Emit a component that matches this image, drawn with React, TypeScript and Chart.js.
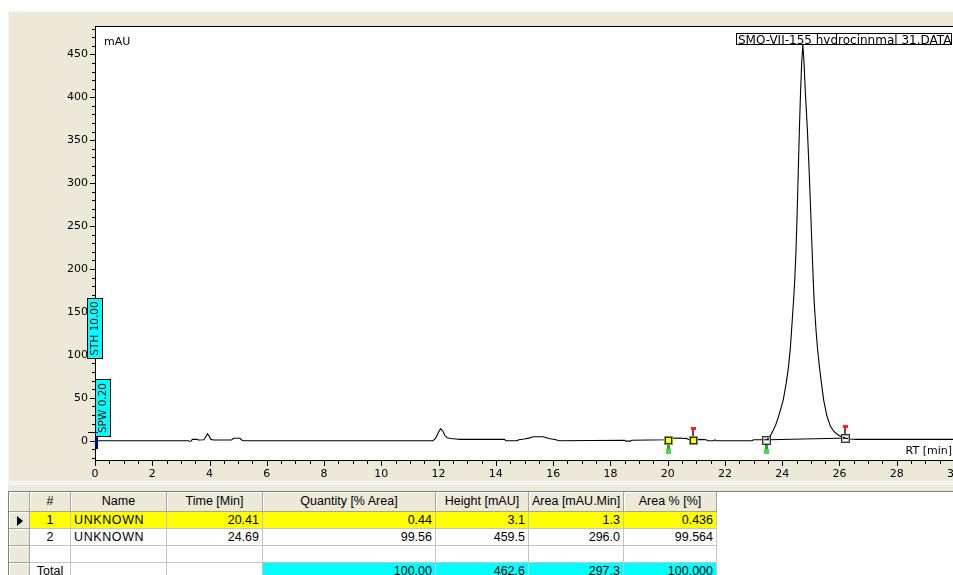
import React, { useEffect, useRef } from "react";
import { Chart, registerables } from "chart.js";

Chart.register(...registerables);

// ---------- chromatogram data ----------
const rtMinutes = [
  0, 3.25, 3.3, 3.36, 3.4, 3.55, 3.62, 3.8, 3.87, 3.93, 3.99, 4.05, 4.15, 4.77, 4.84, 5.06, 5.12, 5.2,
  11.8, 11.9, 12.0, 12.07, 12.15, 12.22, 12.3, 12.42, 12.6, 12.75, 14.3, 14.35, 14.75, 14.8, 15.0, 15.15,
  15.3, 15.65, 15.85, 16.1, 16.2, 18.5, 18.55, 18.7, 18.75, 20.0, 20.1, 20.15, 20.45, 20.55, 20.65, 20.72,
  20.9, 21.1, 21.35, 21.4, 21.6, 21.65, 21.7, 22.94, 23.0, 23.44, 23.52, 23.6, 23.69, 23.78, 23.87, 23.95,
  24.04, 24.14, 24.22, 24.28, 24.32, 24.36, 24.4, 24.44, 24.48, 24.52, 24.56, 24.6, 24.64, 24.68, 24.72,
  24.76, 24.81, 24.88, 24.94, 24.99, 25.03, 25.07, 25.11, 25.15, 25.19, 25.24, 25.3, 25.37, 25.45, 25.56,
  25.68, 25.8, 25.92, 26.05, 26.2, 26.35, 26.6, 30.5,
];
const signalMAU = [
  0, 0, -0.6, -0.4, 1.5, 1.5, 0.8, 1, 4.5, 8, 5, 1.5, 0.8, 0.8, 2.8, 2.8, 0.8, 0,
  0, 3, 10, 14, 11, 6, 3.5, 2.5, 2, 1.5, 1.5, 0, 0, 1, 2, 3,
  4.5, 4.5, 2.5, 1, 0, 0.5, -0.5, -0.5, 0.5, 1, 1.2, 2.8, 3.2, 2.5, 2.8, 1.5,
  1, 1.5, 1, 0, 0, 1, 0, 0, 1, 1, 3, 6.5, 12.5, 19, 28, 37,
  48, 67, 86, 106, 125, 145, 165, 188, 220, 262, 312, 362, 405, 440, 461,
  442, 405, 362, 315, 272, 235, 199, 166, 144, 125, 105, 86, 67, 47, 29,
  17, 11, 7.5, 5, 3, 2, 1.5, 1.5,
];

// integration markers (start, end) and baseline levels
const peak1MarkerTimes = [20.0, 20.9];
const peak1MarkerLevels = [1, 1];
const peak2MarkerTimes = [23.44, 26.2];
const peak2MarkerLevels = [1, 3];

const xTickValues = [0, 2, 4, 6, 8, 10, 12, 14, 16, 18, 20, 22, 24, 26, 28, 30];
const yTickValues = [0, 50, 100, 150, 200, 250, 300, 350, 400, 450];

const traceTitle = "SMO-VII-155 hydrocinnmal 31.DATA";
const yUnitLabel = "mAU";
const xUnitLabel = "RT [min]";
const sthLabel = "STH 10.00";
const spwLabel = "SPW 0.20";

// ---------- results table ----------
const tableHeaders = ["#", "Name", "Time [Min]", "Quantity [% Area]", "Height [mAU]", "Area [mAU.Min]", "Area % [%]"];
const peakIds = ["1", "2"];
const peakNames = ["UNKNOWN", "UNKNOWN"];
const peakTimes = ["20.41", "24.69"];
const peakQuantity = ["0.44", "99.56"];
const peakHeights = ["3.1", "459.5"];
const peakAreas = ["1.3", "296.0"];
const peakAreaPct = ["0.436", "99.564"];
const totalRow = ["Total", "", "", "100.00", "462.6", "297.3", "100.000"];

const BEIGE = "#ECE9D8";
const TICK_FONT = '11px "DejaVu Sans"';

const decorPlugin = {
  id: "decor",
  beforeDraw(chart: any) {
    const { ctx, chartArea: a, width, height } = chart;
    ctx.save();
    ctx.fillStyle = "#ffffff";
    ctx.fillRect(0, 0, width, height);
    ctx.fillStyle = BEIGE;
    ctx.fillRect(8, 10, width - 8, height - 10);
    ctx.fillStyle = "#F8F7F2";
    ctx.fillRect(8, 10, width - 8, 2);
    ctx.fillRect(8, 10, 1, 471);
    ctx.fillStyle = "#F5F4EE";
    ctx.fillRect(8, 481, width - 8, 4);
    ctx.fillStyle = "#ffffff";
    ctx.fillRect(a.left, a.top, a.right - a.left, a.bottom - a.top);
    ctx.restore();
  },
  afterDraw(chart: any) {
    const { ctx, chartArea: a } = chart;
    const xs = chart.scales.x;
    const ys = chart.scales.y;
    ctx.save();
    // plot top border
    ctx.fillStyle = "#000";
    ctx.fillRect(a.left, a.top, a.right - a.left, 1);
    // tick marks
    ctx.strokeStyle = "#000";
    ctx.lineWidth = 1;
    ctx.beginPath();
    for (let v = 0; v <= 30.5 + 1e-9; v += 0.5) {
      const px = Math.round(xs.getPixelForValue(v)) + 0.5;
      const major = Math.abs(v / 2 - Math.round(v / 2)) < 1e-9;
      ctx.moveTo(px, a.bottom);
      ctx.lineTo(px, a.bottom + (major ? 6 : 4));
    }
    for (let v = -20; v <= 480; v += 10) {
      const py = Math.round(ys.getPixelForValue(v)) + 0.5;
      const major = v % 50 === 0;
      ctx.moveTo(a.left, py);
      ctx.lineTo(a.left - (major ? 5 : 3), py);
    }
    ctx.stroke();

    // unit labels
    ctx.fillStyle = "#000";
    ctx.font = TICK_FONT;
    ctx.textBaseline = "alphabetic";
    ctx.textAlign = "left";
    ctx.fillText(yUnitLabel, a.left + 9, a.top + 19);
    ctx.textAlign = "right";
    ctx.fillText(xUnitLabel, a.right - 2, a.bottom - 6);

    // title box
    ctx.font = '12px "DejaVu Sans"';
    const tw = ctx.measureText(traceTitle).width;
    const bx1 = a.right - 2;
    const bx0 = Math.round(bx1 - tw - 3);
    ctx.save();
    ctx.beginPath();
    ctx.rect(bx0, 33, bx1 - bx0, 12);
    ctx.clip();
    ctx.textAlign = "left";
    ctx.fillText(traceTitle, bx0 + 2, 44);
    ctx.restore();
    ctx.strokeStyle = "#000";
    ctx.strokeRect(bx0 + 0.5, 33.5, bx1 - bx0 - 1, 11);

    // vertical parameter boxes
    const vbox = (x: number, y0: number, y1: number, w: number, text: string) => {
      const top = Math.round(y0);
      const h = Math.round(y1) - top;
      ctx.fillStyle = "#00FFFF";
      ctx.fillRect(x, top, w, h);
      ctx.strokeStyle = "#000";
      ctx.strokeRect(x + 0.5, top + 0.5, w - 1, h - 1);
      ctx.save();
      ctx.translate(x + w / 2 + 0.5, top + h / 2);
      ctx.rotate(-Math.PI / 2);
      ctx.fillStyle = "#000";
      ctx.font = '10.5px "DejaVu Sans"';
      ctx.textAlign = "center";
      ctx.textBaseline = "middle";
      ctx.fillText(text, 0, 0);
      ctx.restore();
    };
    vbox(a.left - 8, ys.getPixelForValue(166), ys.getPixelForValue(95), 16, sthLabel);
    vbox(a.left, ys.getPixelForValue(72.3), ys.getPixelForValue(4.7), 16, spwLabel);

    // start marker at t = 0
    const y0 = Math.round(ys.getPixelForValue(0));
    ctx.fillStyle = "#000";
    ctx.fillRect(a.left - 7, y0 - 9, 10, 1);
    ctx.fillStyle = "#000080";
    ctx.fillRect(a.left, y0 - 4, 3, 12);

    // integration marker squares
    peak1MarkerTimes.forEach((t, i) => {
      const px = Math.round(xs.getPixelForValue(t));
      const py = Math.round(ys.getPixelForValue(peak1MarkerLevels[i]));
      ctx.fillStyle = "#FFFF00";
      ctx.fillRect(px - 4, py - 4, 9, 9);
      ctx.strokeStyle = "#222";
      ctx.lineWidth = 1;
      ctx.strokeRect(px - 2.5, py - 2.5, 6, 6);
      ctx.strokeStyle = "#9a9a40";
      ctx.strokeRect(px - 3.5, py - 3.5, 8, 8);
    });
    peak2MarkerTimes.forEach((t, i) => {
      const px = Math.round(xs.getPixelForValue(t));
      const py = Math.round(ys.getPixelForValue(peak2MarkerLevels[i]));
      ctx.strokeStyle = "#333";
      ctx.lineWidth = 1;
      ctx.strokeRect(px - 3.5, py - 3.5, 8, 8);
      ctx.strokeStyle = "#aaa";
      ctx.strokeRect(px - 2.5, py - 2.5, 6, 6);
    });

    // integration pins
    const startPins = [
      [peak1MarkerTimes[0], peak1MarkerLevels[0]],
      [peak2MarkerTimes[0], peak2MarkerLevels[0]],
    ];
    const endPins = [
      [peak1MarkerTimes[1], peak1MarkerLevels[1]],
      [peak2MarkerTimes[1], peak2MarkerLevels[1]],
    ];
    for (const [t, l] of startPins) {
      const px = Math.round(xs.getPixelForValue(t));
      const py = Math.round(ys.getPixelForValue(l));
      ctx.fillStyle = "#22aa22";
      ctx.fillRect(px - 1, py + 5, 3, 9);
      ctx.fillStyle = "#44dd44";
      ctx.fillRect(px - 2, py + 9, 5, 5);
    }
    for (const [t, l] of endPins) {
      const px = Math.round(xs.getPixelForValue(t));
      const py = Math.round(ys.getPixelForValue(l));
      ctx.fillStyle = "#a03030";
      ctx.fillRect(px - 1, py - 10, 2, 6);
      ctx.fillStyle = "#ff2020";
      ctx.fillRect(px - 2, py - 13, 5, 3);
    }
    ctx.restore();
  },
};

function ChromChart() {
  const ref = useRef<HTMLCanvasElement>(null);
  useEffect(() => {
    const canvas = ref.current;
    if (!canvas) return;
    const trace = rtMinutes.map((t, i) => ({ x: t, y: signalMAU[i] }));
    const p2 = peak2MarkerTimes.map((t, i) => ({ x: t, y: peak2MarkerLevels[i] }));
    const chart = new Chart(canvas, {
      type: "line",
      data: {
        datasets: [
          {
            data: p2,
            borderColor: "#000",
            borderWidth: 1,
            pointRadius: 0,
            tension: 0,
          },
          {
            data: trace,
            borderColor: "#000",
            borderWidth: 1.1,
            pointRadius: 0,
            tension: 0,
          },
        ],
      },
      options: {
        animation: false,
        responsive: false,
        devicePixelRatio: 1,
        events: [],
        layout: { padding: { left: 0, top: 26, right: 7, bottom: 0 } },
        plugins: {
          legend: { display: false },
          tooltip: { enabled: false },
          title: { display: false },
        },
        scales: {
          x: {
            type: "linear",
            min: 0,
            max: 30,
            afterBuildTicks: (s: any) => {
              s.ticks = xTickValues.map((v) => ({ value: v }));
            },
            afterFit: (s: any) => {
              s.height = 31;
              s.paddingLeft = 0;
              s.paddingRight = 0;
            },
            grid: { display: false, drawTicks: false },
            border: { display: true, color: "#000", width: 1 },
            ticks: {
              color: "#000",
              font: { family: "DejaVu Sans", size: 11 },
              padding: 8,
              maxRotation: 0,
              autoSkip: false,
            },
          },
          y: {
            type: "linear",
            min: -22.5,
            max: 483,
            afterBuildTicks: (s: any) => {
              s.ticks = yTickValues.map((v) => ({ value: v }));
            },
            afterFit: (s: any) => {
              s.width = 95;
              s.paddingTop = 0;
              s.paddingBottom = 0;
            },
            grid: { display: false, drawTicks: false },
            border: { display: true, color: "#000", width: 1 },
            ticks: {
              color: "#000",
              font: { family: "DejaVu Sans", size: 11 },
              padding: 7,
              autoSkip: false,
            },
          },
        },
      } as any,
      plugins: [decorPlugin],
    });
    return () => chart.destroy();
  }, []);
  return <canvas ref={ref} width={961} height={491} style={{ display: "block", width: 961, height: 491 }} />;
}

const colLefts = [9, 30, 71, 167, 263, 436, 529, 624];
const colWidths = [21, 41, 96, 96, 173, 93, 95, 93];
const rowTops = [492, 512, 529, 546, 563];
const rowHeights = [20, 17, 17, 17, 17];
const colAlign = ["center", "center", "left", "right", "right", "right", "right", "right"];

function ResultsTable() {
  const cells: React.ReactNode[] = [];
  const cell = (r: number, c: number, text: string, bg: string, header: boolean, key: string, extra?: any) => {
    cells.push(
      <div
        key={key}
        style={{
          position: "absolute",
          left: colLefts[c] - 9,
          top: rowTops[r] - 492,
          width: colWidths[c],
          height: rowHeights[r],
          boxSizing: "border-box",
          background: bg,
          borderRight: header ? "1px solid #A5A49B" : "1px solid #C4C4C4",
          borderBottom: header ? "1px solid #A5A49B" : "1px solid #C4C4C4",
          boxShadow: header ? "inset 1px 1px 0 #FFFFFF" : undefined,
          font: '12.5px "Liberation Sans"',
          lineHeight: rowHeights[r] - 1 + "px",
          textAlign: (header ? "center" : colAlign[c]) as any,
          padding: "0 3px",
          whiteSpace: "nowrap",
          overflow: "hidden",
          color: "#000",
          ...(extra || {}),
        }}
      >
        {text}
      </div>
    );
  };
  // header
  cell(0, 0, "", BEIGE, true, "h0");
  tableHeaders.forEach((h, i) => cell(0, i + 1, h, BEIGE, true, "h" + (i + 1)));
  // peak rows
  peakIds.forEach((id, r) => {
    const bg = r === 0 ? "#FFFF00" : "#FFFFFF";
    cell(r + 1, 0, "", BEIGE, true, "s" + r);
    const vals = [id, peakNames[r], peakTimes[r], peakQuantity[r], peakHeights[r], peakAreas[r], peakAreaPct[r]];
    vals.forEach((v, c) =>
      cell(r + 1, c + 1, v, bg, false, "r" + r + "c" + c, c === 1 ? { letterSpacing: "0.6px" } : undefined)
    );
  });
  // empty row
  cell(3, 0, "", BEIGE, true, "s3");
  for (let c = 1; c < 8; c++) cell(3, c, "", "#FFFFFF", false, "e" + c);
  // total row
  cell(4, 0, "", BEIGE, true, "s4");
  totalRow.forEach((v, c) => cell(4, c + 1, v, c >= 3 ? "#00FFFF" : "#FFFFFF", false, "t" + c));

  return (
    <div
      style={{
        position: "absolute",
        left: 8,
        top: 491,
        width: 945,
        height: 84,
        background: "#FFFFFF",
        borderTop: "1px solid #7F7F7F",
        borderLeft: "1px solid #7F7F7F",
        overflow: "hidden",
      }}
    >
      {cells}
      <div
        style={{
          position: "absolute",
          left: 8,
          top: 512 - 492 + 4,
          width: 0,
          height: 0,
          borderTop: "5px solid transparent",
          borderBottom: "5px solid transparent",
          borderLeft: "6px solid #000",
        }}
      />
    </div>
  );
}

export default function App() {
  return (
    <div
      style={{
        position: "absolute",
        left: 0,
        top: 0,
        width: 953,
        height: 575,
        overflow: "hidden",
        background: "#FFFFFF",
      }}
    >
      <ChromChart />
      <ResultsTable />
    </div>
  );
}
